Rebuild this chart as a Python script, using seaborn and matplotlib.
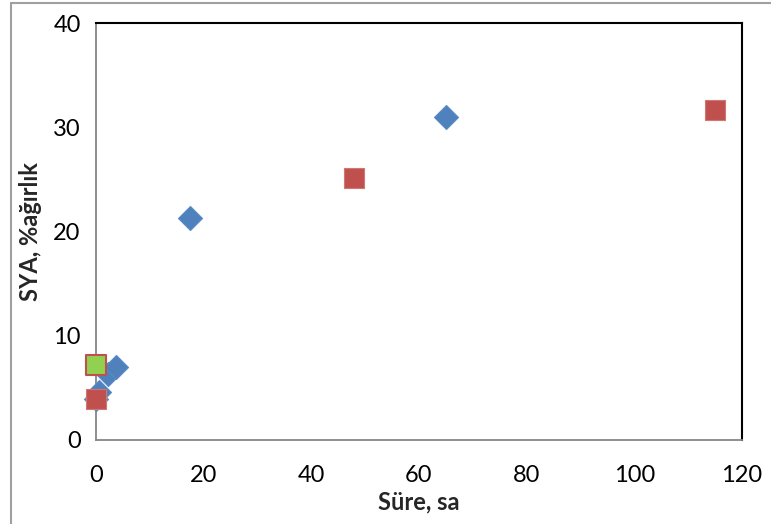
import matplotlib
matplotlib.use("Agg")
import matplotlib.pyplot as plt
from matplotlib.lines import Line2D
import seaborn as sns
import pandas as pd

# Measured series (time in hours, SYA in wt%)
blue_x = [0.0, 0.5, 2.3, 3.8, 17.5, 65.0]
blue_y = [3.9, 4.6, 6.3, 7.0, 21.3, 31.0]
red_x = [0.0, 48.0, 115.0]
red_y = [3.9, 25.1, 31.7]
green_x = [0.0]
green_y = [7.2]

x_ticks = [0, 20, 40, 60, 80, 100, 120]
y_ticks = [0, 10, 20, 30, 40]

sns.set_style("white")
plt.rcParams["font.family"] = ["Lato", "DejaVu Sans"]

W, H = 771, 524
fig = plt.figure(figsize=(W / 100, H / 100), dpi=100)
ax = fig.add_axes([96 / W, 1 - 440 / H, (742 - 96) / W, (440 - 23) / H])

blue_df = pd.DataFrame({"t": blue_x, "sya": blue_y})
red_df = pd.DataFrame({"t": red_x, "sya": red_y})
green_df = pd.DataFrame({"t": green_x, "sya": green_y})

sns.scatterplot(data=blue_df, x="t", y="sya", ax=ax, marker="D", s=150,
                color="#4F81BD", edgecolor="#5A8AC6", linewidth=0.8,
                zorder=3, clip_on=False)
sns.scatterplot(data=red_df, x="t", y="sya", ax=ax, marker="s", s=190,
                color="#C0504D", edgecolor="#D07673", linewidth=0.8,
                zorder=4, clip_on=False)
sns.scatterplot(data=green_df, x="t", y="sya", ax=ax, marker="s", s=190,
                color="#92D050", edgecolor="#C0504D", linewidth=1.5,
                zorder=5, clip_on=False)

ax.set_xlim(0, 120)
ax.set_ylim(0, 40)
ax.set_xticks(x_ticks)
ax.set_yticks(y_ticks)
ax.tick_params(axis="both", direction="out", length=6, width=1.2,
               color="#868686", labelsize=17, labelcolor="black")
ax.tick_params(axis="x", pad=12)
ax.tick_params(axis="y", pad=5)

for side in ("left", "bottom"):
    ax.spines[side].set_color("#868686")
    ax.spines[side].set_linewidth(1.3)
for side in ("top", "right"):
    ax.spines[side].set_color("black")
    ax.spines[side].set_linewidth(1.5)

ax.set_xlabel("Süre, sa", fontsize=17, fontweight="bold", labelpad=3)
ax.set_ylabel("SYA, %ağırlık", fontsize=17, fontweight="bold", labelpad=8)
ax.grid(False)

# Outer chart frame
fig.add_artist(Line2D([11 / W, 11 / W], [1 - 3 / H, 0], color="#A0A0A0", lw=1.5))
fig.add_artist(Line2D([11 / W, 1], [1 - 3 / H, 1 - 3 / H], color="#A0A0A0", lw=1.5))

fig.savefig("out.png", dpi=100)
